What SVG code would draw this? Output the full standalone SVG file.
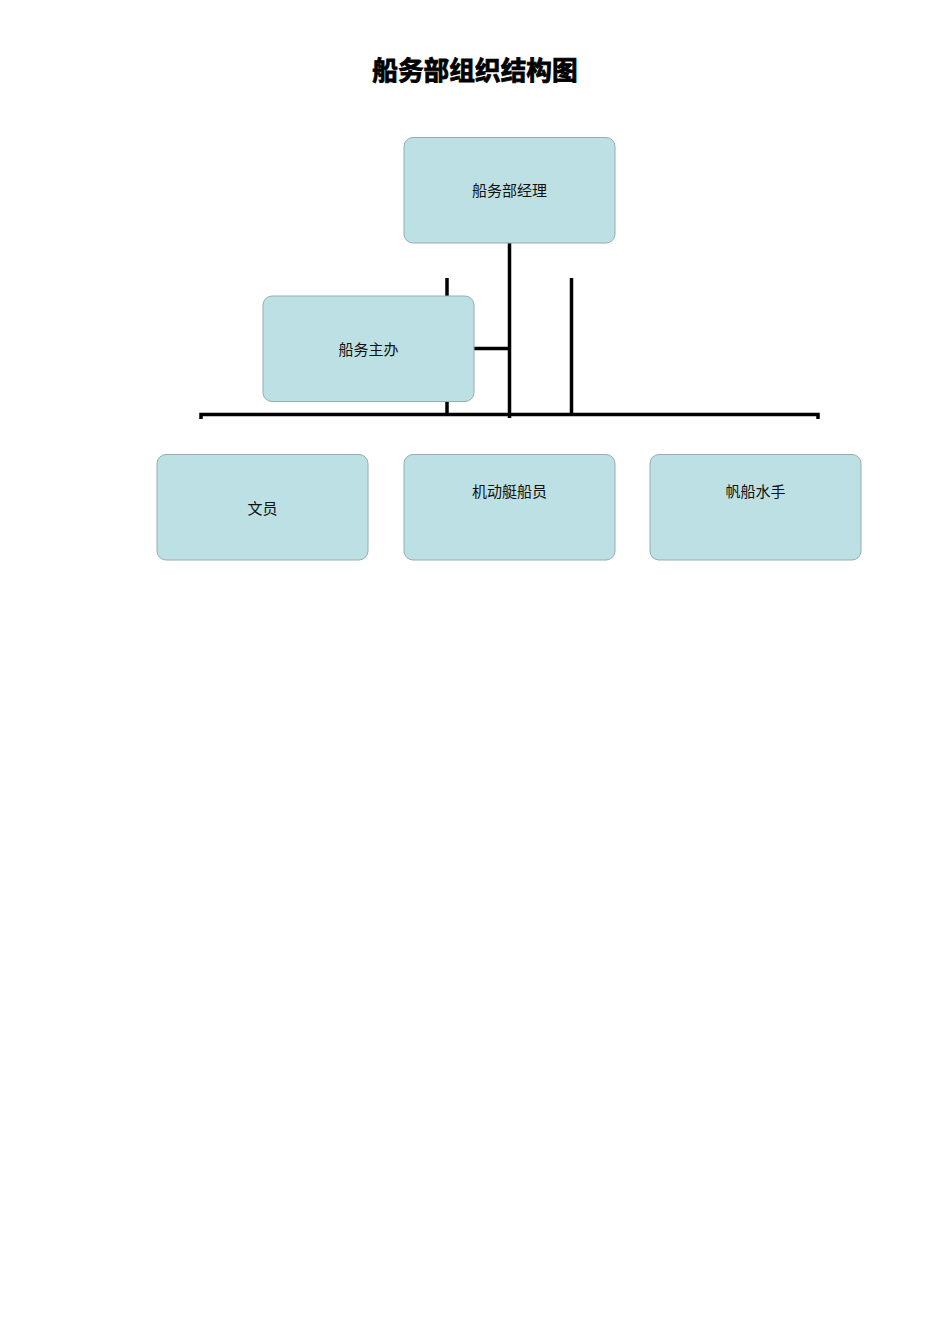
<svg xmlns="http://www.w3.org/2000/svg" width="950" height="1344" viewBox="0 0 950 1344">
<style>
.box{fill:#bce0e3;stroke:#94aeb1;stroke-width:1}
.lbl{font-family:"Liberation Serif","Noto Sans CJK SC",serif;font-size:15px;fill:#111;text-anchor:middle}
.conn{stroke:#000;stroke-width:3.5;fill:none}
.title{font-family:"Liberation Sans","Noto Sans CJK SC",sans-serif;font-size:25.7px;font-weight:bold;fill:#000;text-anchor:middle}
</style>
<rect width="950" height="1344" fill="#fff"/>
<text class="title" x="475" y="80" stroke="#000" stroke-width="0.8">船务部组织结构图</text>
<g id="connectors">
<path class="conn" d="M509.5 243 V418"/>
<path class="conn" d="M447 278 V414"/>
<path class="conn" d="M571.5 278 V414"/>
<path class="conn" d="M474 348.5 H509.5"/>
<path class="conn" d="M201 419 V414.5 H818 V419"/>
</g>
<g id="n-manager">
<rect class="box" x="404" y="137.5" width="211" height="105.5" rx="9"/>
<text class="lbl" x="509.5" y="196">船务部经理</text>
</g>
<g id="n-assistant">
<rect class="box" x="263" y="296" width="211" height="105.5" rx="9"/>
<text class="lbl" x="368.5" y="355">船务主办</text>
</g>
<g id="n-clerk">
<rect class="box" x="157" y="454.5" width="211" height="105.5" rx="9"/>
<text class="lbl" x="262.5" y="514">文员</text>
</g>
<g id="n-motor">
<rect class="box" x="404" y="454.5" width="211" height="105.5" rx="9"/>
<text class="lbl" x="509.5" y="497">机动艇船员</text>
</g>
<g id="n-sail">
<rect class="box" x="650" y="454.5" width="211" height="105.5" rx="9"/>
<text class="lbl" x="755.5" y="497">帆船水手</text>
</g>
</svg>
